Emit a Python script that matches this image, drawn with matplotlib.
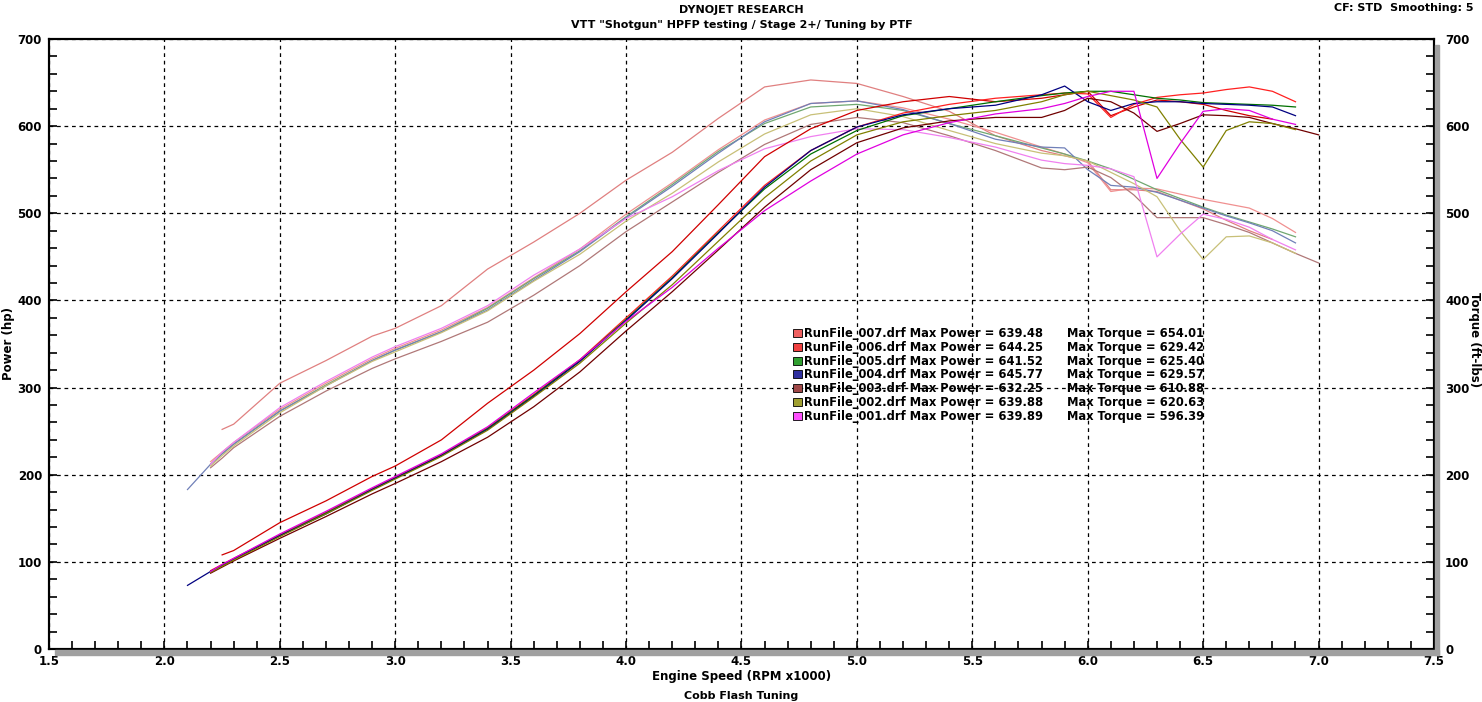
import numpy as np
import matplotlib
matplotlib.use("Agg")
import matplotlib.pyplot as plt
from matplotlib.patches import Rectangle

nan = np.nan

# engine speed grid (RPM x1000)
rpm = [2.1, 2.2, 2.25, 2.3, 2.5, 2.7, 2.9, 3.0, 3.2, 3.4, 3.6, 3.8, 4.0, 4.2, 4.4, 4.6, 4.8,
       5.0, 5.2, 5.4, 5.6, 5.8, 5.9, 6.0, 6.1, 6.2, 6.3, 6.4, 6.5, 6.6, 6.7, 6.8, 6.9, 7.0]

# power (hp) per run
hp_007 = [nan, nan, 108, 113, 145, 170, 198, 210, 240, 282, 320, 362, 410, 456, 510, 565, 597,
          618, 628, 634, 628, 632, 636, 640, 612, 622, 630, 628, 625, 618, 612, 608, nan, nan]
hp_006 = [nan, 90, 97, 104, 131, 157, 184, 197, 223, 254, 292, 332, 380, 428, 480, 532, 572,
          599, 615, 625, 632, 636, 638, 637, 610, 625, 633, 636, 638, 642, 645, 640, 628, nan]
hp_005 = [nan, 89, 96, 103, 130, 156, 183, 196, 222, 253, 291, 331, 378, 426, 478, 528, 568,
          595, 612, 620, 628, 635, 638, 640, 640, 636, 632, 630, 627, 626, 625, 624, 622, nan]
hp_004 = [73, 89, 96, 103, 130, 155, 183, 196, 222, 252, 290, 330, 377, 425, 477, 530, 572,
          599, 613, 620, 624, 636, 646, 628, 618, 626, 628, 628, 626, 625, 624, 622, 612, nan]
hp_003 = [nan, 87, 94, 101, 127, 152, 178, 190, 215, 243, 278, 318, 365, 410, 458, 507, 550,
          581, 598, 606, 610, 610, 618, 632, 628, 615, 594, 603, 613, 612, 610, 603, 597, 590]
hp_002 = [nan, 88, 95, 102, 129, 155, 182, 195, 221, 251, 289, 328, 374, 418, 468, 518, 560,
          590, 605, 612, 618, 628, 636, 640, 635, 630, 622, 585, 553, 595, 605, 603, 596, nan]
hp_001 = [nan, 89, 97, 104, 132, 158, 185, 198, 224, 255, 294, 332, 376, 415, 460, 503, 537,
          568, 590, 604, 614, 620, 626, 634, 640, 640, 540, 580, 617, 620, 618, 608, 602, nan]

# torque (ft-lbs) per run
tq_007 = [nan, nan, 252, 258, 305, 331, 359, 368, 394, 436, 467, 500, 538, 570, 609, 645, 653,
          649, 634, 617, 589, 572, 566, 560, 527, 527, 525, 515, 505, 492, 480, 470, nan, nan]
tq_006 = [nan, 215, 226, 237, 275, 305, 333, 345, 366, 392, 426, 459, 499, 535, 573, 607, 626,
          629, 621, 608, 593, 576, 568, 558, 525, 529, 528, 522, 516, 511, 506, 494, 478, nan]
tq_005 = [nan, 212, 224, 235, 273, 303, 331, 343, 364, 391, 425, 457, 496, 533, 571, 603, 622,
          625, 618, 603, 589, 575, 568, 560, 551, 539, 527, 517, 507, 498, 490, 482, 473, nan]
tq_004 = [183, 212, 224, 235, 273, 302, 331, 343, 364, 389, 423, 456, 495, 531, 569, 605, 626,
          629, 619, 603, 585, 576, 575, 550, 532, 530, 524, 515, 506, 497, 489, 480, 466, nan]
tq_003 = [nan, 208, 219, 231, 267, 296, 322, 333, 353, 375, 406, 440, 479, 513, 547, 579, 602,
          610, 604, 589, 572, 552, 550, 553, 541, 521, 495, 495, 495, 487, 478, 466, 454, 443]
tq_002 = [nan, 210, 222, 233, 271, 302, 330, 341, 363, 388, 422, 453, 491, 523, 559, 591, 613,
          620, 611, 595, 580, 569, 566, 560, 547, 534, 519, 480, 447, 473, 474, 466, 454, nan]
tq_001 = [nan, 212, 226, 237, 277, 307, 335, 347, 368, 394, 429, 459, 494, 519, 549, 574, 588,
          597, 596, 587, 576, 561, 557, 555, 551, 542, 450, 476, 499, 493, 484, 470, 458, nan]

runs = ["007", "006", "005", "004", "003", "002", "001"]
max_power = [639.48, 644.25, 641.52, 645.77, 632.25, 639.88, 639.89]
max_torque = [654.01, 629.42, 625.40, 629.57, 610.88, 620.63, 596.39]

hp_all = [hp_007, hp_006, hp_005, hp_004, hp_003, hp_002, hp_001]
tq_all = [tq_007, tq_006, tq_005, tq_004, tq_003, tq_002, tq_001]
hp_colors = ["#D00000", "#FF2020", "#007000", "#000080", "#700000", "#808000", "#E000E0"]
tq_colors = ["#E08080", "#F09090", "#70A870", "#7080B8", "#B07878", "#C8C078", "#F080F0"]
swatch_colors = ["#F06060", "#F04040", "#30A030", "#3030A0", "#A04848", "#A0A030", "#FF50FF"]

plt.rcParams['font.family'] = ['DejaVu Sans']
W, H = 1482, 702
fig = plt.figure(figsize=(W / 100, H / 100), dpi=100)
ax = fig.add_axes([49 / W, 1 - 649 / H, (1434 - 49) / W, (649 - 39) / H])

# gray shadow along right and bottom frame
fig.patches.append(Rectangle((1435 / W, 1 - 655 / H), 4 / W, (655 - 45) / H,
                             transform=fig.transFigure, color="#A0A0A0", zorder=0))
fig.patches.append(Rectangle((55 / W, 1 - 655 / H), (1439 - 55) / W, 5 / H,
                             transform=fig.transFigure, color="#A0A0A0", zorder=0))

for tq, c in zip(tq_all, tq_colors):
    ax.plot(rpm, tq, color=c, lw=0.9)
for hp, c in zip(hp_all, hp_colors):
    ax.plot(rpm, hp, color=c, lw=0.9)

ax.set_xlim(1.5, 7.5)
ax.set_ylim(0, 700)
ax.set_xticks(np.arange(1.5, 7.51, 0.5))
ax.set_xticks(np.arange(1.5, 7.51, 0.1), minor=True)
ax.set_yticks(np.arange(0, 701, 100))
ax.set_yticks(np.arange(0, 701, 20), minor=True)
ax.set_xticklabels([f"{v:.1f}" for v in np.arange(1.5, 7.51, 0.5)])
ax.grid(True, which="major", color="black", linestyle=(0, (3, 3)), lw=0.9)
ax.tick_params(which="both", direction="in", length=6, width=1.2, labelsize=8.5)
ax.tick_params(axis="x", pad=4)
ax.tick_params(axis="y", pad=5)
for lab in ax.get_xticklabels() + ax.get_yticklabels():
    lab.set_fontweight("bold")
for s in ax.spines.values():
    s.set_linewidth(1.5)

ax2 = ax.twinx()
ax2.set_ylim(0, 700)
ax2.set_yticks(np.arange(0, 701, 100))
ax2.set_yticks(np.arange(0, 701, 20), minor=True)
ax2.tick_params(which="both", direction="in", length=6, width=1.2, labelsize=8.5, pad=8)
for lab in ax2.get_yticklabels():
    lab.set_fontweight("bold")
for s in ax2.spines.values():
    s.set_linewidth(1.5)

ax.set_xlabel("Engine Speed (RPM x1000)", fontsize=8.5, fontweight="bold", labelpad=2)
fig.text(9 / W, 1 - 343 / H, "Power (hp)", rotation=90, ha="center", va="center",
         fontsize=8.5, fontweight="bold")
fig.text(1474 / W, 1 - 340 / H, "Torque (ft-lbs)", rotation=270, ha="center", va="center",
         fontsize=8.5, fontweight="bold")

fig.text(0.5 * (49 + 1434) / W, 1 - 10 / H, "DYNOJET RESEARCH", ha="center", va="center",
         fontsize=8, fontweight="bold")
fig.text(0.5 * (49 + 1434) / W, 1 - 25 / H, 'VTT "Shotgun" HPFP testing / Stage 2+/ Tuning by PTF',
         ha="center", va="center", fontsize=8, fontweight="bold")
fig.text(1474 / W, 1 - 8 / H, "CF: STD  Smoothing: 5", ha="right", va="center",
         fontsize=8, fontweight="bold")
fig.text(0.5 * (49 + 1434) / W, 1 - 696 / H, "Cobb Flash Tuning", ha="center", va="center",
         fontsize=8, fontweight="bold")

handles = [Rectangle((0, 0), 1, 1, facecolor=c, edgecolor="black", lw=0.6) for c in swatch_colors]
labels = [f"RunFile_{r}.drf Max Power = {p:.2f}      Max Torque = {t:.2f}"
          for r, p, t in zip(runs, max_power, max_torque)]
leg = fig.legend(handles, labels, loc="upper left", bbox_to_anchor=(793 / W, 1 - 327 / H),
                 frameon=False, prop={"weight": "bold", "size": 8.3},
                 handlelength=0.75, handleheight=0.7, handletextpad=0.2,
                 labelspacing=0.07, borderpad=0, borderaxespad=0)

fig.savefig("out.png", dpi=100)
